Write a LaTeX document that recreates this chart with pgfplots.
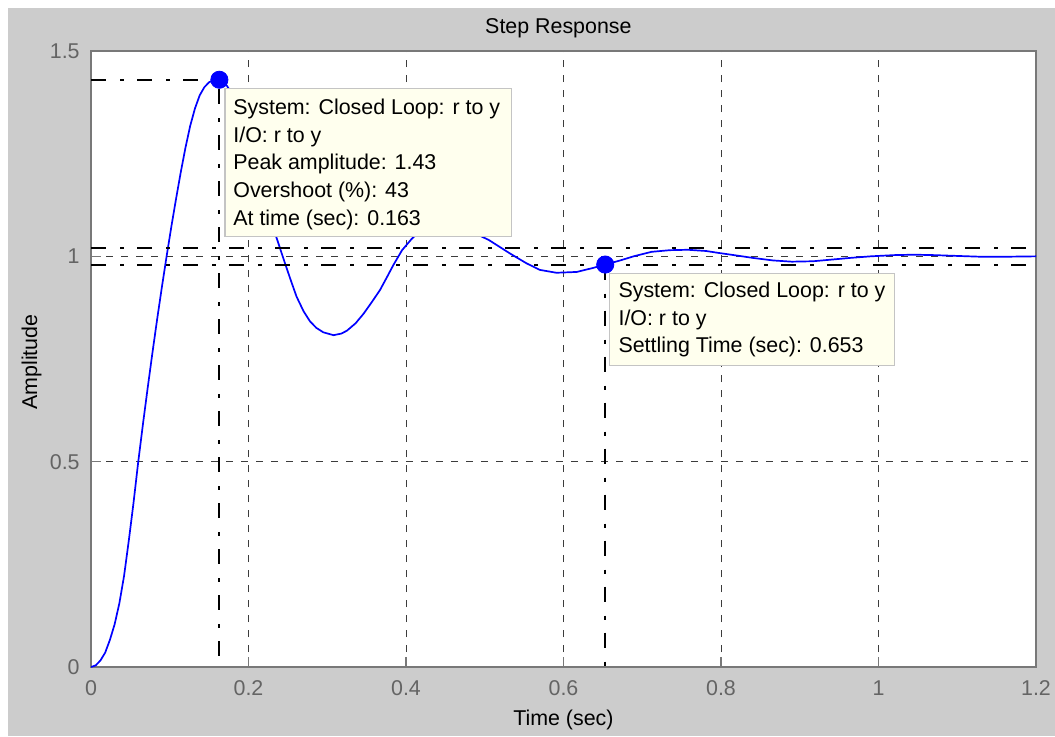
\documentclass[border=0pt]{standalone}
\usepackage{pgfplots}
\usepackage{pgfplotstable}
\pgfplotsset{compat=1.18}
\usepackage{fontspec}
\setmainfont{Liberation Sans}

\definecolor{figgrey}{RGB}{204,204,204}
\definecolor{axgrey}{RGB}{120,120,120}
\definecolor{ticktext}{RGB}{100,100,100}
\definecolor{gridgrey}{RGB}{60,60,60}
\definecolor{tipfill}{RGB}{255,255,238}
\definecolor{tipedge}{RGB}{196,196,196}
\definecolor{respblue}{RGB}{0,0,255}

\newcommand{\chartfont}{\fontsize{10.7}{13.95}\selectfont}

% closed-loop step response r -> y
\pgfplotstableread{
t y
0 0
0.006 0.004
0.012 0.016
0.018 0.035
0.024 0.066
0.030 0.104
0.036 0.155
0.042 0.222
0.048 0.308
0.054 0.400
0.060 0.500
0.066 0.592
0.072 0.680
0.078 0.765
0.084 0.847
0.090 0.925
0.096 1.000
0.102 1.072
0.108 1.140
0.114 1.205
0.120 1.265
0.126 1.318
0.132 1.360
0.138 1.392
0.144 1.412
0.150 1.424
0.156 1.429
0.163 1.430
0.170 1.423
0.177 1.402
0.184 1.370
0.191 1.330
0.198 1.284
0.205 1.236
0.212 1.188
0.219 1.140
0.226 1.094
0.236 1.043
0.246 0.985
0.254 0.940
0.261 0.902
0.270 0.866
0.278 0.842
0.286 0.826
0.295 0.815
0.308 0.808
0.318 0.812
0.325 0.819
0.336 0.837
0.346 0.860
0.356 0.887
0.367 0.918
0.376 0.950
0.384 0.979
0.395 1.015
0.407 1.042
0.418 1.063
0.428 1.077
0.437 1.084
0.447 1.083
0.458 1.076
0.470 1.068
0.482 1.059
0.494 1.050
0.505 1.040
0.532 1.007
0.553 0.983
0.570 0.967
0.591 0.960
0.617 0.962
0.638 0.972
0.653 0.980
0.672 0.990
0.689 1.000
0.712 1.011
0.735 1.015
0.758 1.016
0.781 1.013
0.798 1.008
0.820 1.002
0.841 0.996
0.866 0.990
0.890 0.987
0.917 0.988
0.940 0.992
0.963 0.996
0.990 1.000
1.020 1.003
1.045 1.004
1.070 1.003
1.100 1.001
1.130 0.999
1.160 0.999
1.200 1.000
}\steptable

\begin{document}
\begin{tikzpicture}
\useasboundingbox (0,0) rectangle (527.5pt,368pt);
\fill[white] (0,0) rectangle (527.5pt,368pt);
\fill[figgrey] (4pt,0) rectangle (527.5pt,364pt);

\begin{axis}[
  at={(45.5pt,34.5pt)}, anchor=south west,
  scale only axis, width=472.5pt, height=308pt,
  xmin=0, xmax=1.2, ymin=0, ymax=1.5,
  xtick={0,0.2,0.4,0.6,0.8,1,1.2},
  ytick={0,0.5,1,1.5},
  axis background/.style={fill=white},
  axis line style={axgrey, line width=1pt},
  tick style={axgrey, line width=0.8pt},
  tick align=inside, major tick length=5pt,
  xtick pos=left, ytick pos=left,
  grid=major,
  major grid style={gridgrey, line width=0.5pt, dash pattern=on 3.5pt off 4pt},
  /pgf/number format/assume math mode=true,
  ticklabel style={font=\chartfont, text=ticktext},
  xticklabel style={anchor=north, inner sep=0pt, yshift=-6.5pt},
  yticklabel style={anchor=east, inner sep=0pt, xshift=-5.5pt},
]
% response curve
\addplot[respblue, line width=0.85pt] table[x=t, y=y] {\steptable};

% peak and settling-time guides, 2% settling band
\addplot[black, line width=1pt, dash pattern=on 7.5pt off 7pt on 2pt off 6.5pt]
  coordinates {(0,1.43) (0.163,1.43) (0.163,0)};
\addplot[black, line width=1pt, dash pattern=on 7.5pt off 7pt on 2pt off 6.5pt]
  coordinates {(0.653,0.98) (0.653,0)};
\addplot[black, line width=1pt, dash pattern=on 7.5pt off 7pt on 2pt off 6.5pt]
  coordinates {(0,1.02) (1.2,1.02)};
\addplot[black, line width=1pt, dash pattern=on 7.5pt off 7pt on 2pt off 6.5pt]
  coordinates {(0,0.98) (1.2,0.98)};

% characteristic points
\addplot[only marks, mark=*, mark size=4.3pt, respblue,
  mark options={fill=respblue, draw=respblue}]
  coordinates {(0.163,1.43) (0.653,0.98)};

% data tips
\draw[tipedge, fill=tipfill, line width=0.6pt]
  (axis cs:0.1701,1.048) rectangle (axis cs:0.5344,1.408);
\node[anchor=base west, inner sep=0pt, font=\chartfont] at (axis cs:0.1803,1.3462) {System: Closed Loop: r to y};
\node[anchor=base west, inner sep=0pt, font=\chartfont] at (axis cs:0.1803,1.2784) {I/O: r to y};
\node[anchor=base west, inner sep=0pt, font=\chartfont] at (axis cs:0.1803,1.2105) {Peak amplitude: 1.43};
\node[anchor=base west, inner sep=0pt, font=\chartfont] at (axis cs:0.1803,1.1427) {Overshoot (\%): 43};
\node[anchor=base west, inner sep=0pt, font=\chartfont] at (axis cs:0.1803,1.0749) {At time (sec): 0.163};

\draw[tipedge, fill=tipfill, line width=0.6pt]
  (axis cs:0.658,0.734) rectangle (axis cs:1.0206,0.958);
\node[anchor=base west, inner sep=0pt, font=\chartfont] at (axis cs:0.6694,0.9003) {System: Closed Loop: r to y};
\node[anchor=base west, inner sep=0pt, font=\chartfont] at (axis cs:0.6694,0.8325) {I/O: r to y};
\node[anchor=base west, inner sep=0pt, font=\chartfont] at (axis cs:0.6694,0.7647) {Settling Time (sec): 0.653};
\end{axis}

% titles
\node[anchor=base, inner sep=0pt, font=\chartfont] at (279.2pt,351.3pt) {Step Response};
\node[anchor=base, inner sep=0pt, font=\chartfont] at (281.7pt,5.5pt) {Time (sec)};
\node[anchor=base, inner sep=0pt, rotate=90, font=\chartfont] at (18.5pt,187pt) {Amplitude};
\end{tikzpicture}
\end{document}
